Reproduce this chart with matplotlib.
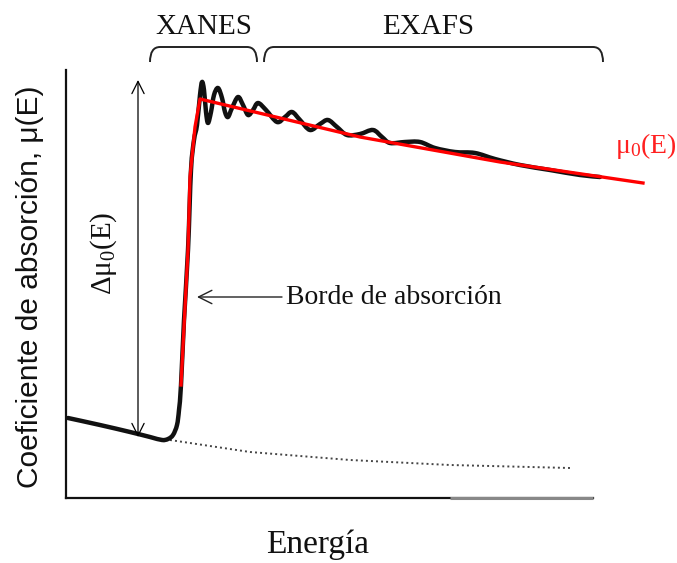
import matplotlib
matplotlib.use("Agg")
import matplotlib.pyplot as plt
from matplotlib.path import Path
from matplotlib.patches import PathPatch

plt.rcParams["font.family"] = ["Liberation Serif", "DejaVu Serif"]
plt.rcParams["mathtext.fontset"] = "custom"
plt.rcParams["mathtext.rm"] = "Liberation Serif"
plt.rcParams["mathtext.it"] = "Liberation Serif"

# Measured absorption spectrum mu(E) (arbitrary units)
energy = [2, 34, 64, 84, 96, 102, 107, 111, 113, 115, 118, 122, 125, 128, 131,
          134, 136, 138, 140, 142, 145, 148, 152, 156, 159, 162, 166, 172, 177,
          182, 187, 192, 200, 211, 219, 226, 234, 244, 254, 262, 271, 281, 294,
          307, 316, 324, 339, 354, 369, 389, 409, 429, 454, 484, 514, 534]
mu = [80, 73, 66, 61, 58, 59, 63, 73, 88, 113, 178, 248, 328, 358, 373,
      403, 416, 408, 386, 375, 386, 403, 410, 400, 386, 381, 390, 401, 393,
      383, 388, 395, 388, 376, 381, 386, 378, 368, 374, 378, 371, 363, 364,
      368, 361, 355, 356, 356, 350, 346, 345, 339, 333, 328, 323, 321]

# Smooth atomic background mu0(E)
energy_mu0 = [115, 122, 124, 129, 134, 214, 294, 434, 577]
mu0 = [113, 248, 321, 371, 399, 380, 361, 336, 315]

# Pre-edge extrapolation
energy_pre = [104, 184, 284, 384, 504]
mu_pre = [58, 46, 38, 33, 30]

# Edge step and region limits
edge_step = (61, 418)
step_energy = 72
edge_pointer = (219, 131, 201)  # text start, arrow tip, level
xanes_range = (84, 191)
exafs_range = (198, 537)
brace_low, brace_high = 436, 451

W, H = 677, 563
fig = plt.figure(figsize=(W / 100, H / 100), dpi=100)
ax = fig.add_axes([66 / W, (H - 498) / H, (593 - 66) / W, (498 - 70) / H])
ax.set_xlim(0, 527)
ax.set_ylim(0, 428)
ax.set_xticks([])
ax.set_yticks([])
for s in ("top", "right"):
    ax.spines[s].set_visible(False)
for s in ("left", "bottom"):
    ax.spines[s].set_linewidth(1.6)
    ax.spines[s].set_color("#111111")
ax.plot([384, 527], [0, 0], color="#888888", lw=2.2, clip_on=False,
        solid_capstyle="butt", zorder=5)


def smooth_path(xs, ys):
    """Bezier path through the points (Catmull-Rom tangents)."""
    pts = list(zip(xs, ys))
    verts = [pts[0]]
    codes = [Path.MOVETO]
    n = len(pts)
    for i in range(n - 1):
        p0 = pts[i - 1] if i > 0 else pts[i]
        p1, p2 = pts[i], pts[i + 1]
        p3 = pts[i + 2] if i + 2 < n else p2
        c1 = (p1[0] + (p2[0] - p0[0]) / 6, p1[1] + (p2[1] - p0[1]) / 6)
        c2 = (p2[0] - (p3[0] - p1[0]) / 6, p2[1] - (p3[1] - p1[1]) / 6)
        verts += [c1, c2, p2]
        codes += [Path.CURVE4] * 3
    return Path(verts, codes)


ax.plot(energy_pre, mu_pre, color="#444444", lw=1.4, ls=(0, (1, 1.6)),
        clip_on=False)
ax.add_patch(PathPatch(smooth_path(energy, mu), fill=False, lw=3.2,
                       edgecolor="#111111", capstyle="round",
                       joinstyle="round", clip_on=False, zorder=3))
ax.plot(energy_mu0, mu0, color="#ff0000", lw=2.4, clip_on=False, zorder=4)

# Edge step arrow
ax.annotate("", xy=(step_energy, edge_step[1]), xytext=(step_energy, edge_step[0]),
            arrowprops=dict(arrowstyle="<->", lw=0.9, color="black",
                            mutation_scale=22, shrinkA=0, shrinkB=0),
            annotation_clip=False)
ax.text(38, 245, r"$\mathrm{Δμ_0(E)}$", rotation=90, ha="center", va="center",
        fontsize=21, color="#111111")

# Absorption edge pointer
ax.annotate("", xy=(edge_pointer[1], edge_pointer[2]),
            xytext=(edge_pointer[0] - 3, edge_pointer[2]),
            arrowprops=dict(arrowstyle="->", lw=1.0, color="#222222",
                            mutation_scale=24, shrinkA=0, shrinkB=0),
            annotation_clip=False)
ax.text(edge_pointer[0] + 1, edge_pointer[2], "Borde de absorción", ha="left",
        va="center", fontsize=20, color="#111111")

ax.text(549, 352, r"$\mathrm{μ_0(E)}$", ha="left", va="center", fontsize=20,
        color="#ff2020", clip_on=False)


def brace(x0, x1, lo, hi, r=10):
    verts = [(x0, lo), (x0, hi), (x0 + r, hi), (x1 - r, hi), (x1, hi), (x1, lo)]
    codes = [Path.MOVETO, Path.CURVE3, Path.CURVE3, Path.LINETO,
             Path.CURVE3, Path.CURVE3]
    ax.add_patch(PathPatch(Path(verts, codes), fill=False, lw=1.4,
                           edgecolor="#222222", clip_on=False))


brace(*xanes_range, brace_low, brace_high)
brace(*exafs_range, brace_low, brace_high)
ax.text(sum(xanes_range) / 2, 471, "XANES", ha="center", va="center",
        fontsize=21, color="#111111")
ax.text(362, 471, "EXAFS", ha="center", va="center", fontsize=21,
        color="#111111")

fig.text(318 / W, 1 - 545 / H, "Energía", ha="center", va="center",
         fontsize=24, color="#111111")
fig.text(30 / W, 1 - 287 / H, "Coeficiente de absorción, μ(E)", rotation=90,
         ha="center", va="center", fontsize=21.5, color="#111111",
         family=["Liberation Sans", "DejaVu Sans"])

fig.savefig("out.png", dpi=100)
